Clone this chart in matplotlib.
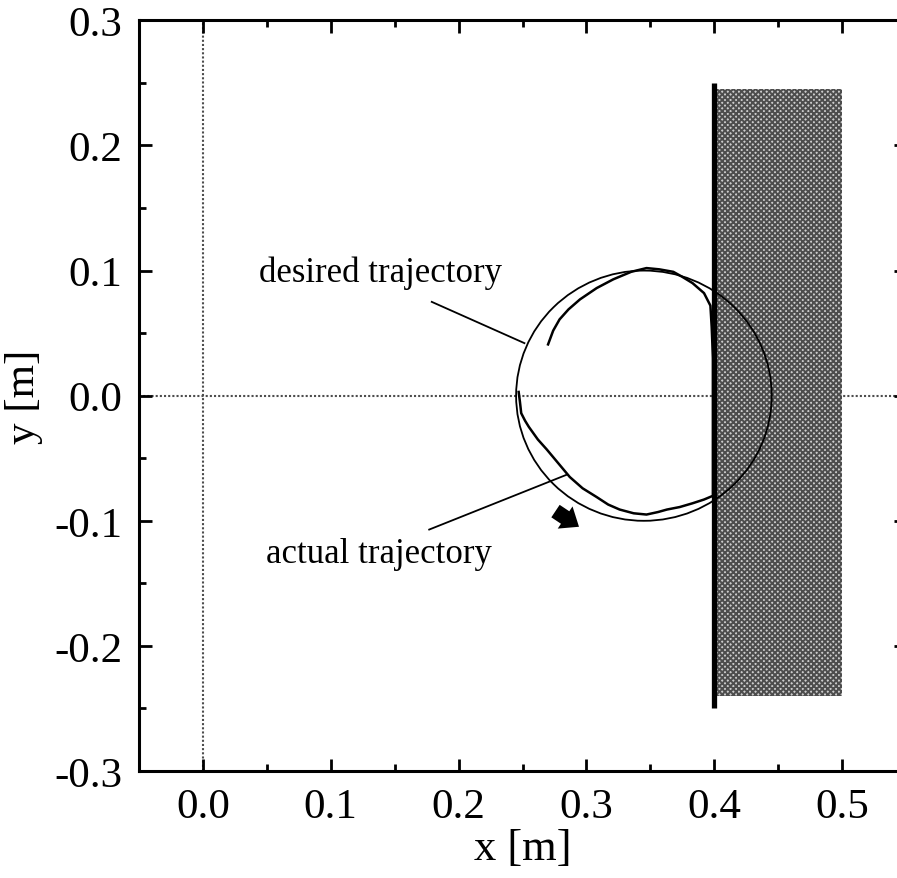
import matplotlib
matplotlib.use('Agg')
import matplotlib.pyplot as plt
from matplotlib.patches import Circle, Rectangle
from matplotlib.ticker import MultipleLocator, FormatStrFormatter

plt.rcParams['font.family'] = ['Liberation Serif', 'DejaVu Serif']
plt.rcParams['hatch.linewidth'] = 1.4

# desired circular path and the wall / object region
circle_center = (0.345, 0.0)
circle_radius = 0.1
wall_x = 0.4
wall_y = [-0.25, 0.25]
block_x = [0.4, 0.5]
block_y = [-0.24, 0.245]

# measured end-effector path (counterclockwise, starting at the left)
actual_x = [0.247, 0.248, 0.249, 0.252, 0.255, 0.262, 0.269, 0.278, 0.287, 0.297,
            0.308, 0.317, 0.326, 0.337, 0.347, 0.356, 0.363, 0.373, 0.383, 0.392,
            0.399, 0.399, 0.399, 0.399, 0.399, 0.398, 0.397, 0.392, 0.383, 0.375,
            0.368, 0.357, 0.347, 0.335, 0.321, 0.308, 0.295, 0.286, 0.279, 0.274,
            0.270]
actual_y = [0.003, -0.005, -0.014, -0.020, -0.025, -0.035, -0.043, -0.054, -0.065, -0.074,
            -0.081, -0.087, -0.091, -0.094, -0.095, -0.093, -0.091, -0.089, -0.086, -0.083,
            -0.080, -0.060, -0.030, 0.000, 0.030, 0.055, 0.072, 0.082, 0.090, 0.095,
            0.099, 0.101, 0.102, 0.099, 0.093, 0.086, 0.077, 0.069, 0.061, 0.052,
            0.041]

fig = plt.figure(figsize=(8.97, 8.79), dpi=100)
ax = fig.add_axes([0.155, 0.1217, 0.855, 0.854])

ax.set_xlim(-0.05, 0.55)
ax.set_ylim(-0.3, 0.3)

# zero lines
ax.axhline(0, color='0.3', lw=1.5, ls=(0, (1, 1)), zorder=1)
ax.axvline(0, color='0.3', lw=1.5, ls=(0, (1, 1)), zorder=1)

# object block (halftone look) and wall surface
ax.add_patch(Rectangle((block_x[0], block_y[0]), block_x[1] - block_x[0],
                       block_y[1] - block_y[0], facecolor='0.8', edgecolor='0.3',
                       lw=0, hatch='xxxxxx', zorder=2))
ax.plot([wall_x, wall_x], wall_y, color='k', lw=3.8, solid_capstyle='butt', zorder=4)

# desired and actual trajectories
ax.add_patch(Circle(circle_center, circle_radius, fill=False, edgecolor='k', lw=1.3, zorder=3))
ax.plot(actual_x, actual_y, color='k', lw=1.8, zorder=5)

# direction of motion
ax.annotate('', xy=(0.296, -0.106), xytext=(0.274, -0.091),
            arrowprops=dict(arrowstyle='simple,head_width=1.6,head_length=1.0,tail_width=0.9',
                            color='k', lw=0, mutation_scale=12))

# labels with leader lines
ax.text(0.044, 0.099, 'desired trajectory', fontsize=25, va='center', ha='left')
ax.plot([0.179, 0.2515], [0.075, 0.042], color='k', lw=1.3)
ax.text(0.049, -0.126, 'actual trajectory', fontsize=25, va='center', ha='left')
ax.plot([0.177, 0.285], [-0.107, -0.063], color='k', lw=1.3)

ax.xaxis.set_major_locator(MultipleLocator(0.1))
ax.xaxis.set_minor_locator(MultipleLocator(0.05))
ax.yaxis.set_major_locator(MultipleLocator(0.1))
ax.yaxis.set_minor_locator(MultipleLocator(0.05))
ax.tick_params(which='both', direction='in', top=True, right=True, width=2)
ax.tick_params(which='major', length=9, labelsize=31, pad=12)
ax.tick_params(which='minor', length=5, right=False)
ax.xaxis.set_major_formatter(FormatStrFormatter('%.1f'))
ax.yaxis.set_major_formatter(FormatStrFormatter('%.1f'))
for s in ax.spines.values():
    s.set_linewidth(2.2)

ax.set_xlabel('x [m]', fontsize=32, labelpad=1)
ax.set_ylabel('y [m]', fontsize=31, labelpad=8)

fig.savefig('out.png', dpi=100)
